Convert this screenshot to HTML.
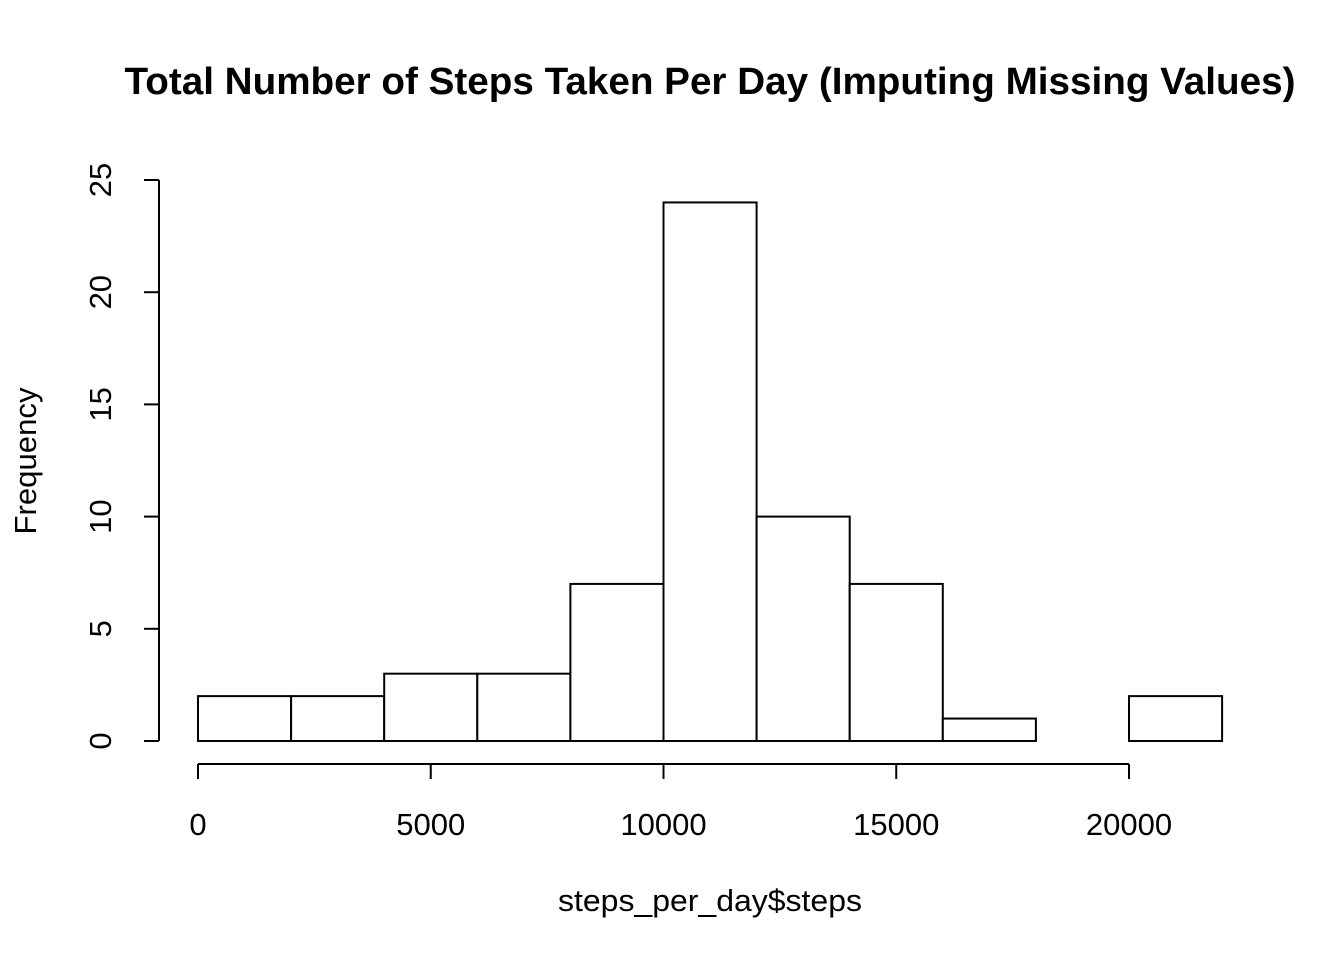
<!DOCTYPE html>
<html><head><meta charset="utf-8"><style>
html,body{margin:0;padding:0;background:#fff;}
svg{display:block;font-family:"Liberation Sans",Arial,sans-serif;}
</style></head><body>
<svg id="chart" width="1344" height="960" viewBox="0 0 1344 960">
<rect width="1344" height="960" fill="#fff"/>
<text x="710" y="94" text-anchor="middle" font-size="38" font-weight="bold" textLength="1171" lengthAdjust="spacingAndGlyphs">Total Number of Steps Taken Per Day (Imputing Missing Values)</text>
<text x="710" y="911" text-anchor="middle" font-size="31" textLength="304" lengthAdjust="spacingAndGlyphs">steps_per_day$steps</text>
<text transform="translate(36,461) rotate(-90)" text-anchor="middle" font-size="31" textLength="147" lengthAdjust="spacingAndGlyphs">Frequency</text>
<g id="bars"></g>
<g id="xaxis"></g>
<g id="yaxis"></g>
</svg>
<script>
const binStarts = [0,2000,4000,6000,8000,10000,12000,14000,16000,18000,20000];
const binWidth = 2000;
const counts = [2,2,3,3,7,24,10,7,1,0,2];
const xTicks = [0,5000,10000,15000,20000];
const yTicks = [0,5,10,15,20,25];
const NS='http://www.w3.org/2000/svg';
function sx(v){return 198 + v*(1129-198)/20000;}
function sy(v){return 741 - v*(741-180)/25;}
function mk(tag,attrs,parent){const e=document.createElementNS(NS,tag);for(const k in attrs)e.setAttribute(k,attrs[k]);parent.appendChild(e);return e;}
const bars=document.getElementById('bars');
binStarts.forEach((b,i)=>{
  const x0=sx(b), x1=sx(b+binWidth), y=sy(counts[i]);
  const r=mk('rect',{x:x0,y:y,width:x1-x0,height:sy(0)-y,fill:'#fff',stroke:'#000','stroke-width':2},bars);
  
  
});
const xa=document.getElementById('xaxis');
mk('line',{x1:sx(xTicks[0]),x2:sx(xTicks[xTicks.length-1]),y1:764,y2:764,stroke:'#000','stroke-width':2},xa);
xTicks.forEach(t=>{
  mk('line',{x1:sx(t),x2:sx(t),y1:764,y2:779,stroke:'#000','stroke-width':2},xa);
  const tx=mk('text',{x:sx(t),y:835,'text-anchor':'middle','font-size':31},xa);
  tx.textContent=t;
  
  
});
const ya=document.getElementById('yaxis');
mk('line',{x1:159,x2:159,y1:sy(yTicks[0]),y2:sy(yTicks[yTicks.length-1]),stroke:'#000','stroke-width':2},ya);
yTicks.forEach(t=>{
  mk('line',{x1:144,x2:159,y1:sy(t),y2:sy(t),stroke:'#000','stroke-width':2},ya);
  const tx=mk('text',{transform:'translate(111,'+sy(t)+') rotate(-90)','text-anchor':'middle','font-size':31},ya);
  tx.textContent=t;
  
  
});
</script>
</body></html>
